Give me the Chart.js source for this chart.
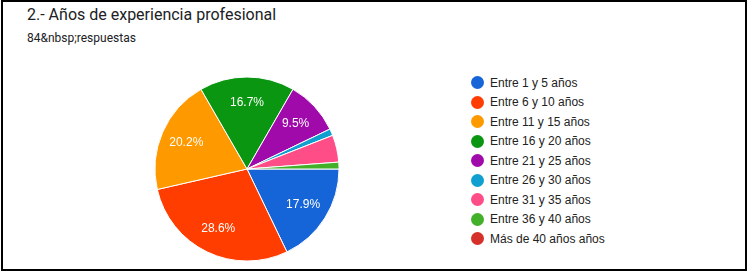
<!DOCTYPE html>
<html>
<head>
<meta charset="utf-8">
<script src="https://cdn.jsdelivr.net/npm/chart.js@4"></script>
<style>
  body { margin: 0; background: #fff; width: 749px; height: 272px; overflow: hidden; }
  #marco { position: absolute; left: 1px; top: 0; width: 742px; height: 267px; border: 2px solid #000; box-sizing: content-box; }
  #titulo { position: absolute; left: 27px; top: 5px; font: 16px Roboto, Arial, sans-serif; color: #202124; }
  #subtitulo { position: absolute; left: 27px; top: 31px; font: 12px Roboto, Arial, sans-serif; color: #202124; }
  #pastel { position: absolute; left: 147px; top: 69px; }
  #leyenda { position: absolute; left: 471px; top: 73px; font: 12px Arial, "Liberation Sans", sans-serif; color: #222; }
  .item { height: 19.5px; display: flex; align-items: center; }
  .punto { width: 13px; height: 13px; border-radius: 50%; margin-right: 6px; }
</style>
</head>
<body>
<div id="marco"></div>
<div id="titulo">2.- Años de experiencia profesional</div>
<div id="subtitulo">84&amp;nbsp;respuestas</div>
<canvas id="pastel" width="200" height="200"></canvas>
<div id="leyenda"></div>
<script>
const categorias = ['Entre 1 y 5 años', 'Entre 6 y 10 años', 'Entre 11 y 15 años', 'Entre 16 y 20 años',
  'Entre 21 y 25 años', 'Entre 26 y 30 años', 'Entre 31 y 35 años', 'Entre 36 y 40 años', 'Más de 40 años años'];
const respuestas = [15, 24, 17, 14, 8, 1, 4, 1, 0];
const colores = ['#1565d8', '#ff3d00', '#ff9900', '#0a9611', '#a00aaa', '#0fa0d0', '#ff4d88', '#43b02a', '#d6302a'];

// etiquetas de porcentaje dentro de cada porcion
const etiquetas = {
  id: 'etiquetas',
  afterDatasetsDraw(chart) {
    const ctx = chart.ctx;
    const total = respuestas.reduce((a, b) => a + b, 0);
    chart.getDatasetMeta(0).data.forEach((arco, i) => {
      const pct = respuestas[i] / total * 100;
      if (pct < 5) return;
      const p = arco.getProps(['x', 'y', 'startAngle', 'endAngle', 'outerRadius'], true);
      const ang = (p.startAngle + p.endAngle) / 2;
      const r = p.outerRadius * 0.72;
      ctx.save();
      ctx.fillStyle = '#fff';
      ctx.font = '12px Arial, "Liberation Sans", sans-serif';
      ctx.textAlign = 'center';
      ctx.textBaseline = 'middle';
      ctx.fillText(pct.toFixed(1) + '%', p.x + Math.cos(ang) * r, p.y + Math.sin(ang) * r);
      ctx.restore();
    });
  }
};

new Chart(document.getElementById('pastel'), {
  type: 'pie',
  data: {
    labels: categorias,
    datasets: [{
      data: respuestas,
      backgroundColor: colores,
      borderColor: '#fff',
      borderWidth: 1
    }]
  },
  options: {
    responsive: false,
    animation: false,
    rotation: 90,
    radius: 92,
    plugins: { legend: { display: false }, tooltip: { enabled: false } }
  },
  plugins: [etiquetas]
});

const leyenda = document.getElementById('leyenda');
categorias.forEach((c, i) => {
  const fila = document.createElement('div');
  fila.className = 'item';
  fila.innerHTML = `<span class="punto" style="background:${colores[i]}"></span>${c}`;
  leyenda.appendChild(fila);
});
</script>
</body>
</html>
